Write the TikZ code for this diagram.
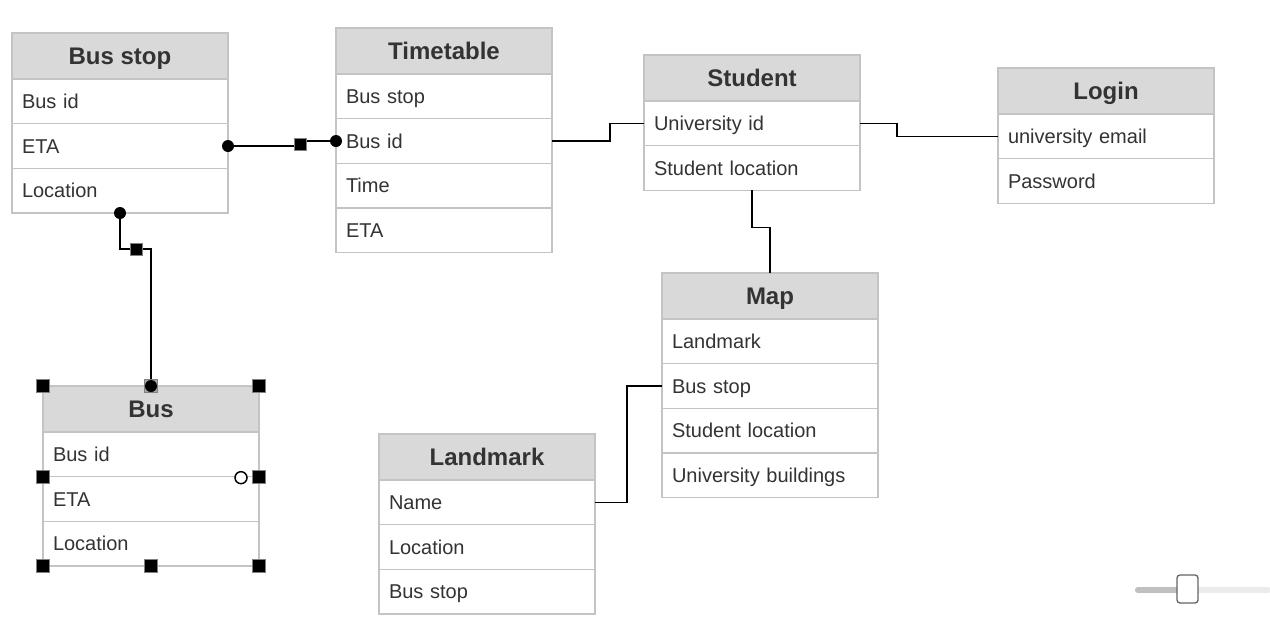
\documentclass[tikz,border=0pt]{standalone}
\usepackage{fontspec}
\setmainfont{Liberation Sans}
\definecolor{hdrgray}{HTML}{D9D9D9}
\definecolor{bordergray}{HTML}{C4C4C4}
\definecolor{txt}{HTML}{333333}
\definecolor{hdlborder}{HTML}{808080}
\begin{document}
\begin{tikzpicture}[x=1pt,y=-1pt,
  hdr/.style={draw=bordergray, fill=hdrgray, line width=1.2pt, outer sep=0pt, minimum width=216pt, minimum height=46pt, inner sep=0pt, text height=17.2pt, text depth=0pt, font=\fontsize{24}{28}\selectfont\bfseries, text=txt, anchor=north west},
  fld/.style={draw=bordergray, fill=white, line width=1.2pt, outer sep=0pt, minimum width=216pt, minimum height=44.67pt, text width=196pt, inner xsep=10pt, inner ysep=0pt, text height=14.3pt, text depth=0pt, align=left, font=\fontsize{20}{24}\selectfont, text=txt, anchor=north west},
  conn/.style={draw=black, line width=1.3pt},
  dotmark/.style={circle, fill=black, minimum size=12pt, inner sep=0pt},
  opendot/.style={circle, draw=black, fill=white, line width=1.5pt, minimum size=12pt, inner sep=0pt},
  handle/.style={rectangle, fill=black, draw=hdlborder, line width=0.8pt, minimum size=13pt, inner sep=0pt},
]
\useasboundingbox (0,0) rectangle (1270,622);
\fill[white] (0,0) rectangle (1270,622);

% Bus stop
\node[hdr] (bs) at (12,33) {Bus stop};
\node[fld] (bs1) at (bs.south west) {Bus id};
\node[fld] (bs2) at (bs1.south west) {ETA};
\node[fld] (bs3) at (bs2.south west) {Location};

% Timetable
\node[hdr] (tt) at (336,28) {Timetable};
\node[fld] (tt1) at (tt.south west) {Bus stop};
\node[fld] (tt2) at (tt1.south west) {Bus id};
\node[fld] (tt3) at (tt2.south west) {Time};
\node[fld] (tt4) at (tt3.south west) {ETA};

% Student
\node[hdr] (st) at (644,55) {Student};
\node[fld] (st1) at (st.south west) {University id};
\node[fld] (st2) at (st1.south west) {Student location};

% Login
\node[hdr] (lg) at (998,68) {Login};
\node[fld] (lg1) at (lg.south west) {university email};
\node[fld] (lg2) at (lg1.south west) {Password};

% Map
\node[hdr] (map) at (662,273) {Map};
\node[fld] (map1) at (map.south west) {Landmark};
\node[fld] (map2) at (map1.south west) {Bus stop};
\node[fld] (map3) at (map2.south west) {Student location};
\node[fld] (map4) at (map3.south west) {University buildings};

% Landmark
\node[hdr] (lm) at (379,434) {Landmark};
\node[fld] (lm1) at (lm.south west) {Name};
\node[fld] (lm2) at (lm1.south west) {Location};
\node[fld] (lm3) at (lm2.south west) {Bus stop};

% Bus
\node[hdr] (bus) at (43,386) {Bus};
\node[fld] (bus1) at (bus.south west) {Bus id};
\node[fld] (bus2) at (bus1.south west) {ETA};
\node[fld] (bus3) at (bus2.south west) {Location};

% connectors
\coordinate (w1) at ([xshift=72pt]bs2.east);
\draw[conn] (bs2.east) -- (w1) |- (tt2.west);
\coordinate (w2) at ([yshift=-36pt]bs3.south);
\draw[conn] (bs3.south) -- (w2) -| (bus.north);
\draw[conn] (tt2.east) -- ++(58,0) |- (st1.west);
\draw[conn] (st1.east) -- ++(37,0) |- (lg1.west);
\draw[conn] (st2.south) -- ++(0,37) -| (map.north);
\draw[conn] (lm1.east) -- ++(32,0) |- (map2.west);

% markers
\node[dotmark] (m1) at (bs2.east) {};
\node[dotmark] (m2) at (tt2.west) {};
\node[handle, minimum size=12pt] (m3) at ([yshift=1.5pt]w1) {};
\node[dotmark] (m4) at (bs3.south) {};
\node[handle, minimum size=12pt] (m5) at ([xshift=16pt]w2) {};

% selection handles on Bus
\node[handle] (h1) at (bus.north west) {};
\node[handle, fill=gray!70] (h2) at (bus.north) {};
\node[dotmark] (h2d) at (bus.north) {};
\node[handle] (h3) at (bus.north east) {};
\node[handle] (h4) at (bus2.north west) {};
\node[handle] (h5) at (bus2.north east) {};
\node[handle] (h6) at (bus3.south west) {};
\node[handle] (h7) at (bus3.south) {};
\node[handle] (h8) at (bus3.south east) {};
\node[opendot] (h9) at ([xshift=-18pt,yshift=-1pt]bus2.north east) {};

% slider
\draw[line width=6pt, line cap=round, color={rgb,255:red,236;green,236;blue,236}] (1138,590) -- (1268,590);
\draw[line width=6pt, line cap=round, color={rgb,255:red,192;green,192;blue,192}] (1138,590) -- (1185,590);
\node[draw={rgb,255:red,100;green,100;blue,100}, fill=white, line width=1.3pt, rounded corners=3pt, minimum width=21pt, minimum height=28pt, inner sep=0pt] (knob) at (1187.5,589) {};
\end{tikzpicture}
\end{document}
